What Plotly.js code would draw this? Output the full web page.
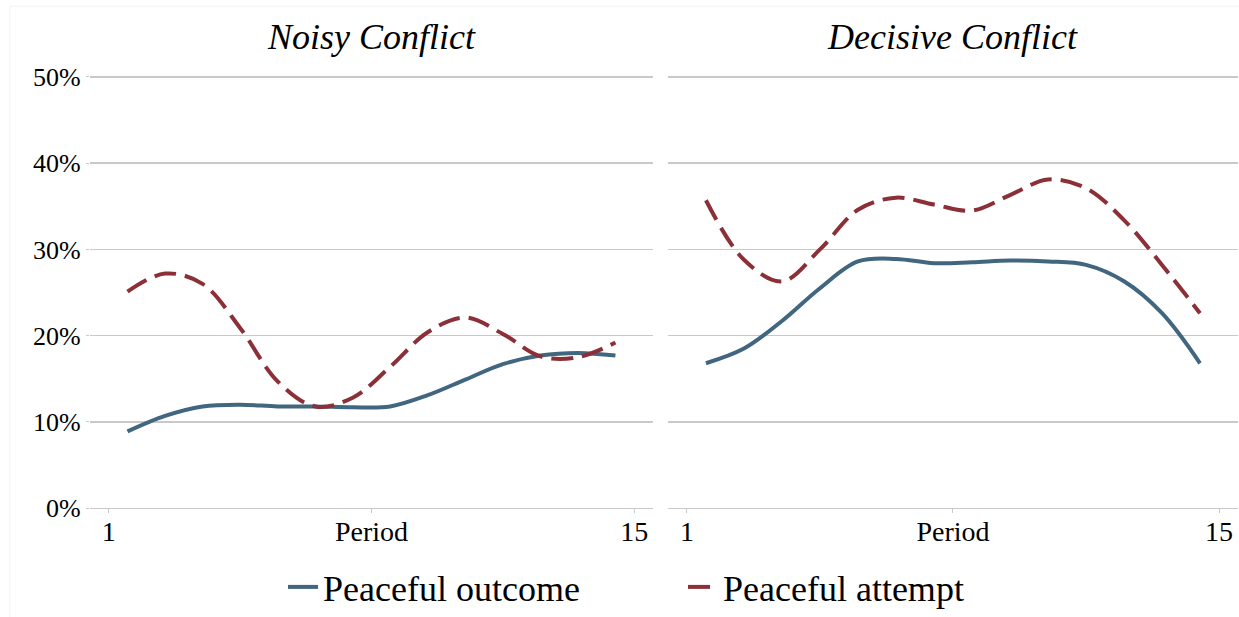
<!DOCTYPE html>
<html>
<head>
<meta charset="utf-8">
<script src="https://cdn.plot.ly/plotly-3.0.1.min.js"></script>
<style>html,body{margin:0;padding:0;background:#fff;}#chart{width:1239px;height:617px;}</style>
</head>
<body>
<div id="chart"></div>
<script>
// ---- data ----
const periods = [1.5, 2.5, 3.5, 4.5, 5.5, 6.5, 7.5, 8.5, 9.5, 10.5, 11.5, 12.5, 13.5, 14.5];
const noisyOutcome = [8.9, 10.7, 11.8, 12.0, 11.8, 11.8, 11.7, 11.8, 13.1, 14.9, 16.7, 17.7, 18.0, 17.7];
const noisyAttempt = [25.1, 27.2, 26.0, 20.9, 14.7, 11.8, 12.8, 16.4, 20.4, 22.1, 20.2, 17.6, 17.5, 19.2];
const decisiveOutcome = [16.8, 18.5, 21.7, 25.5, 28.6, 28.9, 28.4, 28.5, 28.7, 28.6, 28.2, 26.3, 22.6, 16.8];
const decisiveAttempt = [35.7, 28.8, 26.3, 30.0, 34.6, 36.0, 35.2, 34.5, 36.3, 38.1, 37.1, 33.4, 28.2, 22.6];
const panelTitles = ["Noisy Conflict", "Decisive Conflict"];
const seriesNames = ["Peaceful outcome", "Peaceful attempt"];
const xTickVals = [1, 8, 15];
const xTickText = ["1", "Period", "15"];
const yTickVals = [0, 10, 20, 30, 40, 50];
const yTickText = ["0%", "10%", "20%", "30%", "40%", "50%"];

const blue = "#41667F";
const red = "#8C3038";
const grid = "#c9c9c9";
const font = "Liberation Serif, Times New Roman, serif";

const outcomeLine = {color: blue, width: 4, shape: "spline", smoothing: 1};
const attemptLine = {color: red, width: 4, shape: "spline", smoothing: 1, dash: "22px,9px"};

const traces = [
  {x: periods, y: noisyOutcome, xaxis: "x", yaxis: "y", mode: "lines", name: seriesNames[0], line: outcomeLine, legendgroup: "o", showlegend: true},
  {x: periods, y: noisyAttempt, xaxis: "x", yaxis: "y", mode: "lines", name: seriesNames[1], line: attemptLine, legendgroup: "a", showlegend: true},
  {x: periods, y: decisiveOutcome, xaxis: "x2", yaxis: "y2", mode: "lines", name: seriesNames[0], line: outcomeLine, legendgroup: "o", showlegend: false},
  {x: periods, y: decisiveAttempt, xaxis: "x2", yaxis: "y2", mode: "lines", name: seriesNames[1], line: attemptLine, legendgroup: "a", showlegend: false}
];

const xCommon = {
  range: [0.5, 15.5], tickmode: "array", tickvals: xTickVals, ticktext: xTickText,
  showgrid: false, zeroline: false, showline: false,
  ticks: "outside", ticklen: 4, tickcolor: grid, tickwidth: 1,
  tickfont: {family: font, size: 28, color: "#000"}, ticklabelstandoff: -6, fixedrange: true
};
const yCommon = {
  range: [0, 50.2], tickmode: "array", tickvals: yTickVals, ticktext: yTickText,
  showgrid: true, gridcolor: grid, gridwidth: 1.3,
  zeroline: true, zerolinecolor: grid, zerolinewidth: 1.3, showline: false,
  domain: [0.175, 0.878], fixedrange: true
};

const layout = {
  width: 1239, height: 617,
  margin: {l: 0, r: 0, t: 0, b: 0},
  paper_bgcolor: "#fff", plot_bgcolor: "#fff",
  showlegend: true,
  legend: {orientation: "h", x: 0.2284, xanchor: "left", y: 0.047, yanchor: "middle",
           font: {family: font, size: 36, color: "#000"}, tracegroupgap: 0,
           entrywidthmode: "pixels", entrywidth: 355},
  xaxis: Object.assign({}, xCommon, {domain: [0.0726, 0.527], anchor: "y"}),
  xaxis2: Object.assign({}, xCommon, {domain: [0.5391, 0.9992], anchor: "y2"}),
  yaxis: Object.assign({}, yCommon, {anchor: "x", ticks: "outside", ticklen: 3,
           tickcolor: grid, tickfont: {family: font, size: 26, color: "#000"}, ticklabelstandoff: 0}),
  yaxis2: Object.assign({}, yCommon, {anchor: "x2", showticklabels: false, ticks: ""}),
  annotations: [
    {text: "<i>" + panelTitles[0] + "</i>", xref: "x domain", x: 0.5, yref: "paper", y: 0.94,
     xanchor: "center", yanchor: "middle", showarrow: false, font: {family: font, size: 36, color: "#000"}},
    {text: "<i>" + panelTitles[1] + "</i>", xref: "x2 domain", x: 0.5, yref: "paper", y: 0.94,
     xanchor: "center", yanchor: "middle", showarrow: false, font: {family: font, size: 36, color: "#000"}}
  ],
  shapes: [
    {type: "rect", xref: "paper", yref: "paper", x0: 0.008, x1: 1.02, y0: -0.05, y1: 0.99,
     line: {color: "#f2f2f2", width: 1}, fillcolor: "rgba(0,0,0,0)", layer: "below"}
  ]
};

Plotly.newPlot("chart", traces, layout, {displayModeBar: false, staticPlot: true});
</script>
</body>
</html>
